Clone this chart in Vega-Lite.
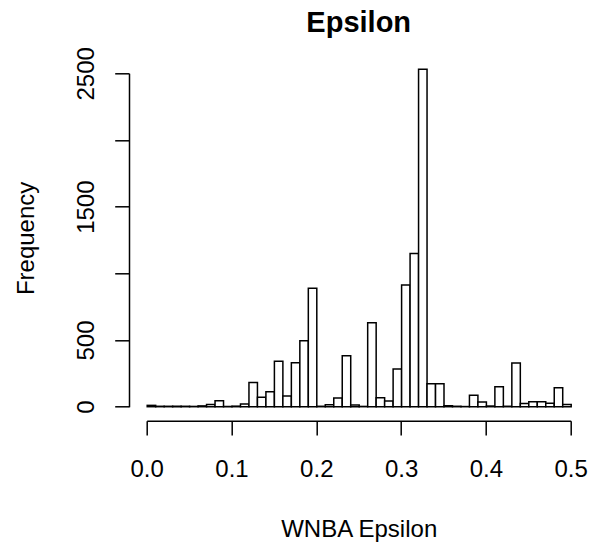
{
  "$schema": "https://vega.github.io/schema/vega-lite/v6.json",
  "autosize": {"type": "none"},
  "width": 424,
  "height": 333.4,
  "padding": {"left": 146.7, "top": 73.3, "right": 21.3, "bottom": 141.3},
  "background": "white",
  "title": {
    "text": "Epsilon",
    "font": "Liberation Sans",
    "fontSize": 29,
    "fontWeight": "bold",
    "color": "black",
    "anchor": "middle",
    "frame": "group",
    "baseline": "alphabetic",
    "offset": -14
  },
  "data": {
    "values": [
      {"bin_start": 0.00, "bin_end": 0.01, "count": 10},
      {"bin_start": 0.01, "bin_end": 0.02, "count": 3},
      {"bin_start": 0.02, "bin_end": 0.03, "count": 3},
      {"bin_start": 0.03, "bin_end": 0.04, "count": 4},
      {"bin_start": 0.04, "bin_end": 0.05, "count": 3},
      {"bin_start": 0.05, "bin_end": 0.06, "count": 2},
      {"bin_start": 0.06, "bin_end": 0.07, "count": 6},
      {"bin_start": 0.07, "bin_end": 0.08, "count": 16},
      {"bin_start": 0.08, "bin_end": 0.09, "count": 45},
      {"bin_start": 0.09, "bin_end": 0.10, "count": 2},
      {"bin_start": 0.10, "bin_end": 0.11, "count": 4},
      {"bin_start": 0.11, "bin_end": 0.12, "count": 20},
      {"bin_start": 0.12, "bin_end": 0.13, "count": 182},
      {"bin_start": 0.13, "bin_end": 0.14, "count": 70},
      {"bin_start": 0.14, "bin_end": 0.15, "count": 112},
      {"bin_start": 0.15, "bin_end": 0.16, "count": 340},
      {"bin_start": 0.16, "bin_end": 0.17, "count": 80},
      {"bin_start": 0.17, "bin_end": 0.18, "count": 330},
      {"bin_start": 0.18, "bin_end": 0.19, "count": 495},
      {"bin_start": 0.19, "bin_end": 0.20, "count": 888},
      {"bin_start": 0.20, "bin_end": 0.21, "count": 3},
      {"bin_start": 0.21, "bin_end": 0.22, "count": 15},
      {"bin_start": 0.22, "bin_end": 0.23, "count": 66},
      {"bin_start": 0.23, "bin_end": 0.24, "count": 382},
      {"bin_start": 0.24, "bin_end": 0.25, "count": 12},
      {"bin_start": 0.25, "bin_end": 0.26, "count": 2},
      {"bin_start": 0.26, "bin_end": 0.27, "count": 630},
      {"bin_start": 0.27, "bin_end": 0.28, "count": 68},
      {"bin_start": 0.28, "bin_end": 0.29, "count": 43},
      {"bin_start": 0.29, "bin_end": 0.30, "count": 283},
      {"bin_start": 0.30, "bin_end": 0.31, "count": 912},
      {"bin_start": 0.31, "bin_end": 0.32, "count": 1148},
      {"bin_start": 0.32, "bin_end": 0.33, "count": 2530},
      {"bin_start": 0.33, "bin_end": 0.34, "count": 173},
      {"bin_start": 0.34, "bin_end": 0.35, "count": 173},
      {"bin_start": 0.35, "bin_end": 0.36, "count": 7},
      {"bin_start": 0.36, "bin_end": 0.37, "count": 3},
      {"bin_start": 0.37, "bin_end": 0.38, "count": 1},
      {"bin_start": 0.38, "bin_end": 0.39, "count": 85},
      {"bin_start": 0.39, "bin_end": 0.40, "count": 35},
      {"bin_start": 0.40, "bin_end": 0.41, "count": 5},
      {"bin_start": 0.41, "bin_end": 0.42, "count": 150},
      {"bin_start": 0.42, "bin_end": 0.43, "count": 3},
      {"bin_start": 0.43, "bin_end": 0.44, "count": 328},
      {"bin_start": 0.44, "bin_end": 0.45, "count": 24},
      {"bin_start": 0.45, "bin_end": 0.46, "count": 38},
      {"bin_start": 0.46, "bin_end": 0.47, "count": 38},
      {"bin_start": 0.47, "bin_end": 0.48, "count": 26},
      {"bin_start": 0.48, "bin_end": 0.49, "count": 143},
      {"bin_start": 0.49, "bin_end": 0.50, "count": 16}
    ]
  },
  "mark": {"type": "rect", "fill": "white", "stroke": "black", "strokeWidth": 1.5, "clip": false},
  "encoding": {
    "x": {
      "field": "bin_start",
      "type": "quantitative",
      "bin": {"binned": true, "step": 0.01},
      "scale": {"domain": [0, 0.5], "nice": false, "zero": false},
      "axis": {
        "title": "WNBA Epsilon",
        "values": [0, 0.1, 0.2, 0.3, 0.4, 0.5],
        "format": ".1f",
        "offset": 14,
        "grid": false,
        "domainColor": "black",
        "domainWidth": 1.5,
        "tickColor": "black",
        "tickWidth": 1.5,
        "tickSize": 14.3,
        "labelFont": "Liberation Sans",
        "labelFontSize": 24,
        "labelColor": "black",
        "labelBaseline": "alphabetic",
        "labelPadding": 41,
        "labelFlush": false,
        "labelOverlap": false,
        "titleFont": "Liberation Sans",
        "titleFontSize": 24,
        "titleFontWeight": "normal",
        "titleColor": "black",
        "titleBaseline": "alphabetic",
        "titleX": 212,
        "titleY": 116
      }
    },
    "x2": {"field": "bin_end"},
    "y": {
      "field": "count",
      "type": "quantitative",
      "scale": {"domain": [0, 2500], "nice": false, "zero": true},
      "axis": {
        "title": "Frequency",
        "values": [0, 500, 1000, 1500, 2000, 2500],
        "offset": 17.7,
        "grid": false,
        "domainColor": "black",
        "domainWidth": 1.5,
        "tickColor": "black",
        "tickWidth": 1.5,
        "tickSize": 14.3,
        "labelExpr": "datum.value % 1000 == 0 && datum.value > 0 ? '' : datum.label",
        "labelFont": "Liberation Sans",
        "labelFontSize": 24,
        "labelColor": "black",
        "labelAngle": -90,
        "labelAlign": "center",
        "labelBaseline": "alphabetic",
        "labelPadding": 21.4,
        "labelFlush": false,
        "labelOverlap": false,
        "format": "d",
        "titleFont": "Liberation Sans",
        "titleFontSize": 24,
        "titleFontWeight": "normal",
        "titleColor": "black",
        "titleAngle": -90,
        "titleBaseline": "alphabetic",
        "titleAlign": "center",
        "titleX": -95.7,
        "titleY": 164.6
      }
    }
  },
  "config": {"view": {"stroke": null}}
}
